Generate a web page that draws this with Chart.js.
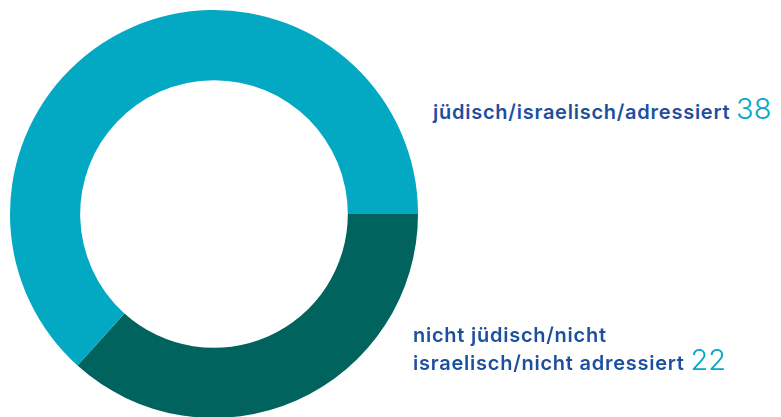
<!DOCTYPE html>
<html lang="de">
<head>
<meta charset="utf-8">
<script src="https://cdn.jsdelivr.net/npm/chart.js@4"></script>
<style>
  html, body { margin: 0; padding: 0; background: #fff; }
  body { width: 781px; height: 417px; overflow: hidden; position: relative; font-family: Inter, "Noto Sans", sans-serif; }
  #wrap { position: absolute; left: 0; top: 0; width: 428px; height: 428px; }
  .lbl { position: absolute; color: #1d4f9f; font-size: 20px; font-weight: 600; line-height: 28px; letter-spacing: 0.75px; white-space: nowrap; }
  .lbl .num { color: #05a9c4; font-size: 29px; font-weight: 300; line-height: 0; letter-spacing: 0; }
</style>
</head>
<body>
<div id="wrap"><canvas id="donut"></canvas></div>
<div class="lbl" id="lbl0" style="left:433px; top:98px;"></div>
<div class="lbl" id="lbl1" style="left:413px; top:321px;"></div>
<script>
 // Kategorien und Werte
 const labels = ["nicht jüdisch/nicht israelisch/nicht adressiert", "jüdisch/israelisch/adressiert"];
 const labelLines = [["nicht jüdisch/nicht", "israelisch/nicht adressiert"], ["jüdisch/israelisch/adressiert"]];
 const values = [22, 38];
 const colors = ["#00635e", "#03a9c3"];

 // Beschriftungen rechts vom Ring
 [1, 0].forEach(function (i, k) {
   const el = document.getElementById("lbl" + k);
   const lines = labelLines[i];
   el.innerHTML = lines.slice(0, -1).map(l => l + "<br>").join("") +
     lines[lines.length - 1] + ' <span class="num">' + values[i] + '</span>';
 });

 const donut = new Chart(document.getElementById("donut"), {
   type: "doughnut",
   data: {
     labels: labels,
     datasets: [{
       data: values,
       backgroundColor: colors,
       borderWidth: 0
     }]
   },
   options: {
     responsive: true,
     maintainAspectRatio: false,
     animation: false,
     rotation: 90, /* Start bei 3 Uhr */
     cutout: "65.6%",
     layout: { padding: 10 },
     plugins: {
       legend: { display: false },
       tooltip: { enabled: false }
     }
   }
 });
</script>
</body>
</html>
